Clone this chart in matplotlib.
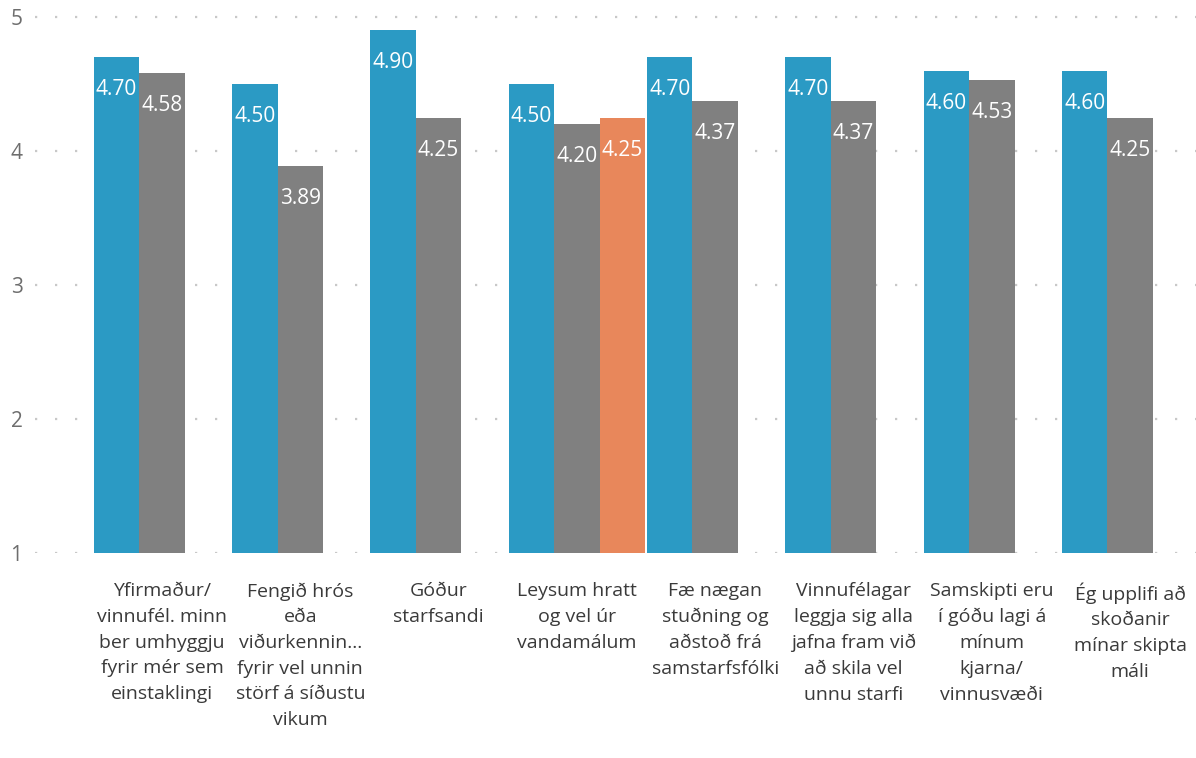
import numpy as np
import matplotlib
matplotlib.use("Agg")
import matplotlib.pyplot as plt

categories = [
    "Yfirmaður/\nvinnufél. minn\nber umhyggju\nfyrir mér sem\neinstaklingi",
    "Fengið hrós\neða\nviðurkennin...\nfyrir vel unnin\nstörf á síðustu\nvikum",
    "Góður\nstarfsandi",
    "Leysum hratt\nog vel úr\nvandamálum",
    "Fæ nægan\nstuðning og\naðstoð frá\nsamstarfsfólki",
    "Vinnufélagar\nleggja sig alla\njafna fram við\nað skila vel\nunnu starfi",
    "Samskipti eru\ní góðu lagi á\nmínum\nkjarna/\nvinnusvæði",
    "Ég upplifi að\nskoðanir\nmínar skipta\nmáli",
]
series_blue = [4.70, 4.50, 4.90, 4.50, 4.70, 4.70, 4.60, 4.60]
series_gray = [4.58, 3.89, 4.25, 4.20, 4.37, 4.37, 4.53, 4.25]
series_orange = [np.nan, np.nan, np.nan, 4.25, np.nan, np.nan, np.nan, np.nan]
yticks = [1, 2, 3, 4, 5]

plt.rcParams['font.family'] = ['Open Sans', 'DejaVu Sans']

W, H = 1196, 758
fig = plt.figure(figsize=(W / 100, H / 100), dpi=100)
ax = fig.add_axes([35 / W, (H - 553) / H, 1 - 35 / W, 553 / H])

x = np.arange(len(categories))
w = 45.5 / 138.3
colors = ['#2B9AC4', '#808080', '#E8875B']
baseline = 1
for k, (vals, col) in enumerate([(series_blue, colors[0]), (series_gray, colors[1]), (series_orange, colors[2])]):
    v = np.array(vals, dtype=float)
    xs = x + (k - 1) * w
    mask = ~np.isnan(v)
    ax.bar(xs[mask], v[mask] - baseline, bottom=baseline, width=w, color=col, zorder=3)
    for xi, vi in zip(xs[mask], v[mask]):
        ax.annotate(f"{vi:.2f}", xy=(xi, vi), xytext=(0, -38), textcoords='offset pixels',
                    ha='center', va='baseline', color='white', fontsize=15, zorder=4)

left_x = (35 - 162) / 138.3
right_x = (1196 - 162) / 138.3
ax.set_xlim(left_x, right_x)
ax.set_ylim(1, 5 + 17 / 134)
ax.set_yticks(yticks)
ax.set_yticklabels([str(t) for t in yticks])
for t in yticks:
    ax.axhline(t, color='#c8c8c8', linewidth=1.6, linestyle=(0, (1, 8)), zorder=1)
ax.set_xticks(x)
ax.set_xticklabels(categories, fontsize=14, color='#3a3a3a', linespacing=1.55, va='top')
ax.tick_params(axis='x', length=0, pad=21)
ax.tick_params(axis='y', length=0, pad=9, labelsize=15, labelcolor='#6e6e6e')
for s in ax.spines.values():
    s.set_visible(False)
ax.set_facecolor('white')
fig.patch.set_facecolor('white')

fig.savefig('out.png', dpi=100)
